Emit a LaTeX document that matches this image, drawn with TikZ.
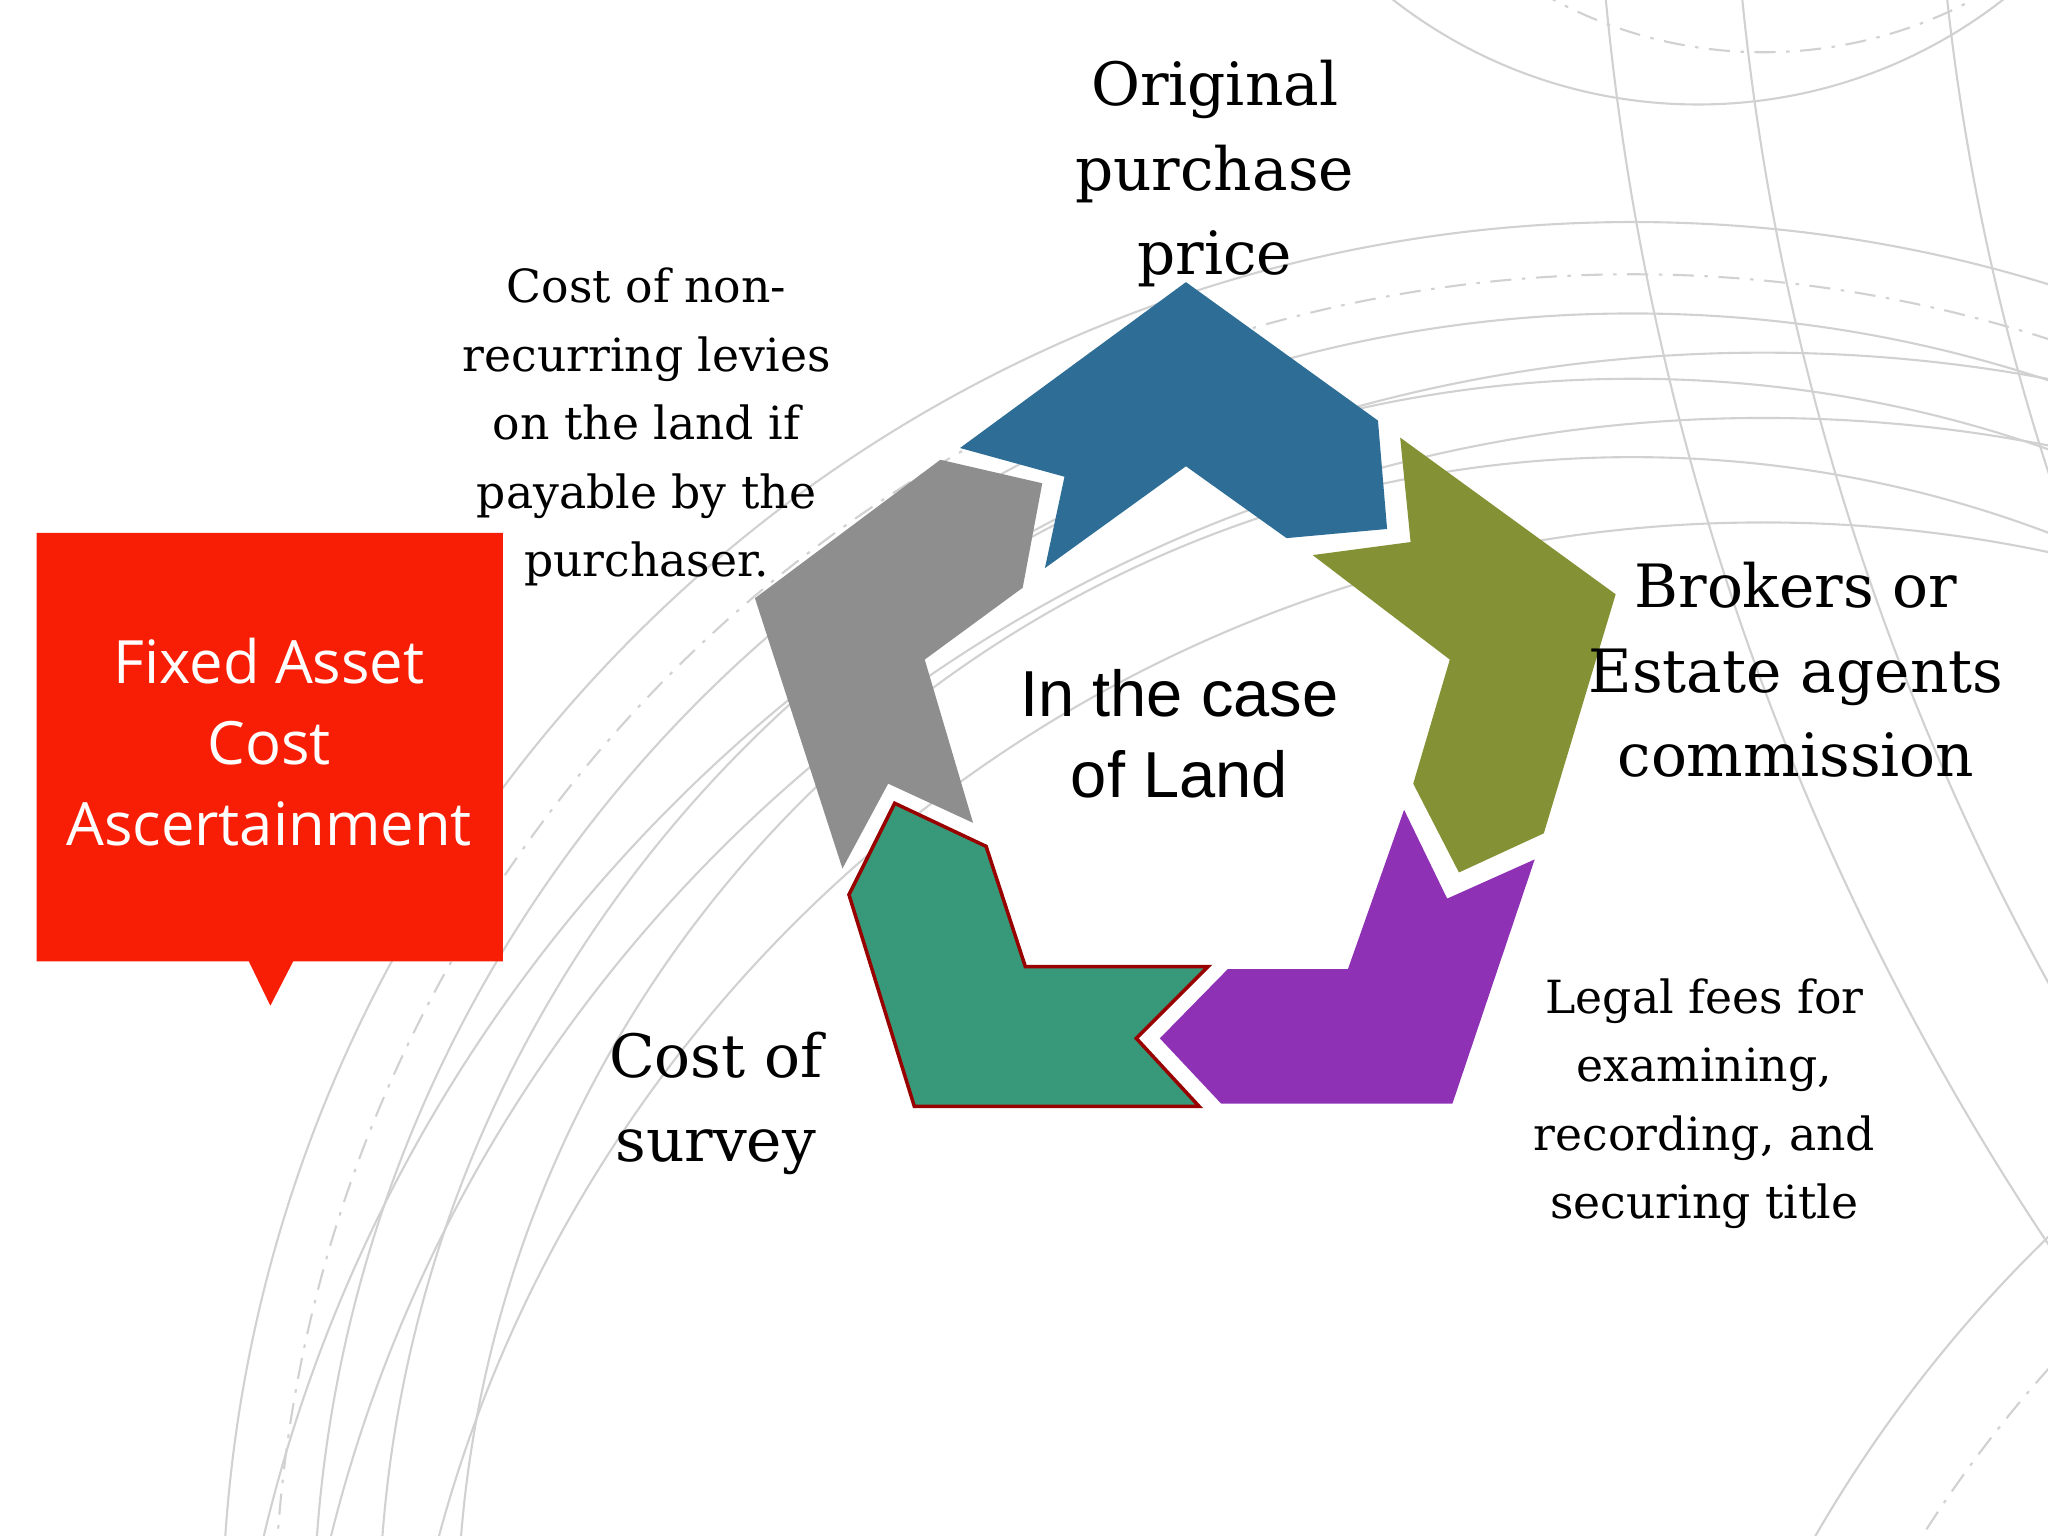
\documentclass[tikz,border=0pt]{standalone}
\usepackage{fontspec}
\setmainfont{DejaVu Serif}
\newfontfamily\arialf{Liberation Sans}
\newfontfamily\opensf{Open Sans}
\definecolor{cblue}{HTML}{2E6E96}
\definecolor{cgreen}{HTML}{849235}
\definecolor{cpurple}{HTML}{8E31B5}
\definecolor{cteal}{HTML}{38997A}
\definecolor{cgray}{HTML}{8F8E8F}
\definecolor{cred}{HTML}{F81E06}
\begin{document}
\begin{tikzpicture}[x=0.01306cm,y=-0.01306cm,
  arc/.style={draw=black!18,line width=0.6pt},
  darc/.style={draw=black!18,line width=0.6pt,dash pattern=on 6pt off 3pt on 1pt off 3pt},
  seg/.style={draw=white,line width=2pt},
  big/.style={font=\fontsize{17}{24}\selectfont,align=center},
  small/.style={font=\fontsize{13}{19.5}\selectfont,align=center}]
\useasboundingbox (0,0) rectangle (1568,1176);
\begin{scope}
\clip (0,0) rectangle (1568,1176);
\foreach \r in {900,960,1010,1080} \draw[arc] (1250,1250) circle (\r);
\draw[darc] (1250,1250) circle (1040);
\foreach \r in {1050,1130,1180} \draw[arc] (1350,1450) circle (\r);
\foreach \r in {700,760,800} \draw[arc] (3300,-200) circle (\r*2.6);
\draw[arc] (1300,-300) circle (380);
\draw[darc] (1350,-300) circle (340);
\draw[arc] (2300,1700) circle (1050);
\draw[darc] (2300,1700) circle (980);
\end{scope}
% pentagon segments
\fill[cblue] (735,343)--(908,216)--(1055,322)--(1062,405)--(985,412)--(908,357)--(800,435)--(815,365)--cycle;
\fill[cgreen] (1072,335)--(1237,455)--(1182,638)--(1117,668)--(1082,600)--(1110,505)--(1005,425)--(1080,415)--cycle;
\fill[cpurple] (1175,658)--(1112,845)--(935,845)--(888,795)--(940,742)--(1032,742)--(1075,620)--(1108,688)--cycle;
\draw[fill=cteal,draw=red!60!black,line width=1pt] (685,615)--(755,648)--(785,740)--(925,740)--(870,795)--(918,847)--(700,847)--(650,685)--cycle;
\fill[cgray] (720,352)--(798,370)--(783,450)--(708,505)--(745,630)--(680,600)--(645,665)--(578,458)--cycle;
\node[font=\arialf\fontsize{18.5}{23}\selectfont,align=center] (c) at (903,562) {In the case\\of Land};
\node[big] (t1) at (930,133) {Original\\purchase\\price};
\node[big] (t2) at (1375,513) {Brokers or\\Estate agents\\commission};
\node[small] (t3) at (1305,845) {Legal fees for\\examining,\\recording, and\\securing title};
\node[big] (t4) at (548,845) {Cost of\\survey};
\node[small] (t5) at (495,327) {Cost of non-\\recurring levies\\on the land if\\payable by the\\purchaser.};
\fill[cred] (28,408) rectangle (385,736) (190,735)--(207,770)--(225,735)--cycle;
\node[font=\opensf\fontsize{17}{23}\selectfont,align=center,text=white] (r) at (206,568) {Fixed Asset\\Cost\\Ascertainment};
\end{tikzpicture}
\end{document}
